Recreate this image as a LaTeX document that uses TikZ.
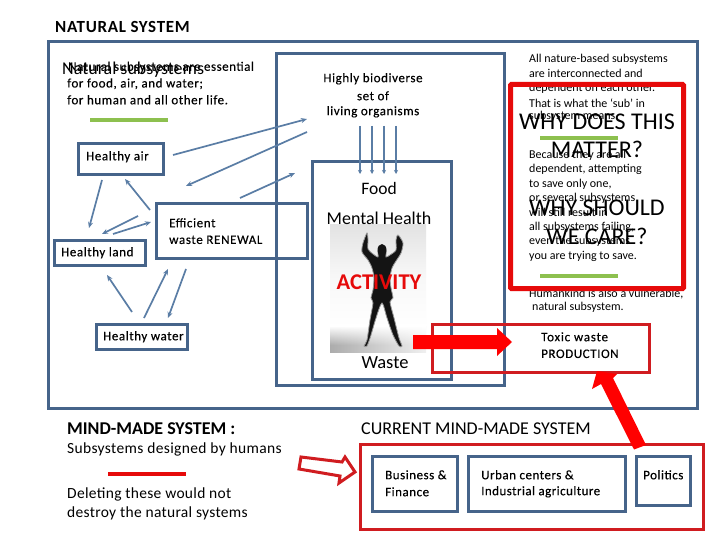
\documentclass[tikz,border=0pt]{standalone}
\usepackage{fontspec}
\setmainfont{Carlito}
\usetikzlibrary{arrows.meta,fadings}
\definecolor{bluebox}{HTML}{46648A}
\definecolor{bluearrow}{HTML}{5A7DA5}
\definecolor{redthick}{HTML}{E60A0A}
\definecolor{redbox}{HTML}{D01C20}
\definecolor{greenbar}{HTML}{8DC04F}
\newcommand{\myfs}[1]{\fontsize{#1}{#1}\selectfont}
\newcommand{\lsp}[1]{\addfontfeature{LetterSpace=#1}}
\newcommand{\lbl}[1]{\fontsize{13}{13}\selectfont\addfontfeature{LetterSpace=#1,FakeBold=0.25}}
\tikzset{
  x=1pt,y=-1pt,
  bbox/.style={draw=bluebox,line width=3pt,fill=none,inner sep=0pt,rectangle},
  rbox/.style={draw=redbox,line width=3pt,fill=none,inner sep=0pt,rectangle},
  thickred/.style={draw=redthick,line width=5pt,rounded corners=1pt,fill=none,inner sep=0pt,rectangle},
  arr/.style={draw=bluearrow,line width=1.7pt,-{Stealth[length=6pt,width=5pt]}},
  downarr/.style={draw=bluearrow,line width=1.4pt,-{Stealth[length=4pt,width=4pt]}},
  txt/.style={anchor=west,inner sep=0pt,text=black,align=left,yshift=-0.8pt},
  ctxt/.style={anchor=center,inner sep=0pt,text=black,align=center,yshift=-0.8pt},
  bar/.style={line width=3.5pt},
}
\begin{document}
\begin{tikzpicture}
\useasboundingbox (0,0) rectangle (720,540);
\fill[white] (0,0) rectangle (720,540);
% photo
\shade[top color=gray!22,bottom color=white,middle color=gray!6] (330,225) rectangle (426,327);
\shade[left color=gray!65,right color=gray!12] (330,326) rectangle (426,352);
\fill[white,path fading=south] (330,326) rectangle (426,345);
\fill[black!92,draw=black!40,line width=.8pt] plot[smooth cycle,tension=.45] coordinates {
  (367,233) (363,243) (362,252) (368,260) (372,268) (374,278) (373,290) (371,298)
  (373,303) (370,320) (367,340) (364,346) (367,346) (371,335) (376,318) (382,303)
  (387,318) (393,335) (399,346) (402,346) (399,338) (394,318) (390,302) (393,298) (391,288) (390,278)
  (392,268) (396,261) (401,253) (403,243) (398,235) (396,240) (396,250) (390,255)
  (386,257) (386,251) (382,245) (378,251) (378,257) (373,254) (368,249) (368,240)};
\fill[black!92] (382,250) ellipse (4.5 and 6);
% boxes
\node[bbox,minimum width=649pt,minimum height=366pt] (natural) at (372.5,225) {};
\node[bbox,minimum width=228pt,minimum height=331pt] (bio) at (390,219.5) {};
\node[bbox,minimum width=139pt,minimum height=217pt] (human) at (381.5,270.5) {};
\node[bbox,minimum width=85pt,minimum height=31pt] (air) at (120.5,159.5) {};
\node[bbox,minimum width=91pt,minimum height=25pt] (land) at (99.5,252.5) {};
\node[bbox,minimum width=151pt,minimum height=54pt] (renewal) at (231.5,231) {};
\node[bbox,minimum width=91pt,minimum height=25pt] (water) at (141.5,336.5) {};
\node[rbox,minimum width=217pt,minimum height=48pt] (toxic) at (540.5,348) {};
\node[rbox,minimum width=343pt,minimum height=85pt] (current) at (531.5,486.5) {};
\node[bbox,minimum width=85pt,minimum height=55pt] (business) at (414.5,483.5) {};
\node[bbox,minimum width=157pt,minimum height=55pt] (urban) at (546.5,483.5) {};
\node[bbox,minimum width=54pt,minimum height=49pt] (politics) at (663,480.5) {};
% green and red bars
\coordinate (g1a) at (90,120); \coordinate (g1b) at (168,120);
\coordinate (g2a) at (540,138); \coordinate (g2b) at (618,138);
\coordinate (g3a) at (540,276); \coordinate (g3b) at (618,276);
\coordinate (r1a) at (108,474); \coordinate (r1b) at (186,474);
\draw[bar,greenbar] (g1a) -- (g1b);
\draw[bar,greenbar] (g2a) -- (g2b);
\draw[bar,greenbar] (g3a) -- (g3b);
\draw[bar,redthick] (r1a) -- (r1b);
% small arrows
\coordinate (a1s) at (173,155); \coordinate (a1e) at (307,119);
\coordinate (a2s) at (307,132); \coordinate (a2e) at (186,186);
\coordinate (a3s) at (240,198); \coordinate (a3e) at (295,173);
\coordinate (a4s) at (102,180); \coordinate (a4e) at (89,228);
\coordinate (a5s) at (150,210); \coordinate (a5e) at (125,179);
\coordinate (a6s) at (138,216); \coordinate (a6e) at (102,234);
\coordinate (a7s) at (113,234); \coordinate (a7e) at (151,222);
\coordinate (a8s) at (132,312); \coordinate (a8e) at (107,275);
\coordinate (a9s) at (144,318); \coordinate (a9e) at (168,269);
\coordinate (a10s) at (186,269); \coordinate (a10e) at (168,318);
\foreach \i in {1,...,10} {\draw[arr] (a\i s) -- (a\i e);}
\foreach \i/\xx in {1/360,2/372,3/384,4/396} {
  \coordinate (d\i s) at (\xx,126); \coordinate (d\i e) at (\xx,174);
  \draw[downarr] (d\i s) -- (d\i e);}
% right text
\node[txt] (para1) at (529,59) {\myfs{12}All nature-based subsystems};
\node[txt] at (529,73) {\myfs{12}are interconnected and};
\node[txt] at (529,88) {\myfs{12}dependent on each other.};
\node[txt] at (529,102) {\myfs{12}That is what  the ‘sub’ in};
\node[txt] at (529,116) {\myfs{12}subsystem means.};
\node[txt] at (529,155) {\myfs{12}Because they are all};
\node[txt] at (529,169) {\myfs{12}dependent, attempting};
\node[txt] at (529,184) {\myfs{12}to save only one,};
\node[txt] at (529,198) {\myfs{12}or several subsystems};
\node[txt] at (529,212) {\myfs{12}will still result in};
\node[txt] at (529,227) {\myfs{12}all subsystems failing,};
\node[txt] at (529,241) {\myfs{12}even the subsystems};
\node[txt] at (529,256) {\myfs{12}you are trying to save.};
\node[txt] at (529,293) {\myfs{12}Humankind is also a vulnerable,};
\node[txt] at (532,307) {\myfs{12}natural subsystem.};
% big red box
\node[thickred,minimum width=173pt,minimum height=204pt] (why) at (597,186.5) {};
\node[ctxt] (why1) at (597,121) {\myfs{24}WHY DOES THIS};
\node[ctxt] (why2) at (597,149) {\myfs{24}MATTER?};
\node[ctxt] (why3) at (597,207) {\myfs{24}WHY SHOULD};
\node[ctxt] (why4) at (597,236) {\myfs{24}WE CARE?};
% big arrows
\fill[red] (413,335) -- (497,335) -- (497,328) -- (512,342) -- (497,356) -- (497,349) -- (413,349) -- cycle;
\fill[red] (634,449.5) -- (646,445) -- (613,378) -- (617,374) -- (597,371) -- (592,389) -- (601,384) -- cycle;
\draw[redbox,line width=3pt,line join=miter,fill=white] (301,457) -- (342,462) -- (345,457) -- (355,472) -- (339,483) -- (340,476) -- (299,469) -- cycle;
% texts
\node[txt] at (55,26) {\myfs{17}\bfseries\lsp{4}NATURAL SYSTEM};
\node[txt] at (68,66.5) {\lbl{4}Natural subsystems are essential};
\node[txt] at (67,83) {\lbl{4.5}for food, air, and water;};
\node[txt] at (67,99) {\lbl{4.5}for human and all other life.};
\node[txt] at (62,69) {\myfs{18}Natural subsystems};
\node[ctxt] at (373,78) {\lbl{4.5}Highly biodiverse};
\node[ctxt] at (373,95) {\lbl{4.5}set of};
\node[ctxt] at (373,111) {\lbl{4.5}living organisms};
\node[txt] at (86,156) {\lbl{4.5}Healthy air};
\node[txt] at (61,252) {\lbl{4.5}Healthy land};
\node[txt] at (103,336) {\lbl{4.5}Healthy water};
\node[txt] at (169,222) {\lbl{5}Efficient};
\node[txt] at (169,239) {\lbl{5}waste RENEWAL};
\node[ctxt] at (379,188) {\myfs{17.5}Food};
\node[ctxt] at (379,218) {\myfs{18}Mental Health};
\node[ctxt,text=redthick] at (379,281) {\myfs{22.5}\bfseries ACTIVITY};
\node[ctxt] at (385,362) {\myfs{18.5}Waste};
\node[txt] at (541,336) {\lbl{6}Toxic waste};
\node[txt] at (541,353) {\lbl{4.5}PRODUCTION};
\node[txt] at (67,428) {\myfs{18}\bfseries MIND-MADE SYSTEM :};
\node[txt] at (67,449) {\myfs{15.5}\lsp{2.3}Subsystems designed by humans};
\node[txt] at (67,494) {\myfs{15.5}\lsp{2}Deleting these would not};
\node[txt] at (67,513) {\myfs{15.5}\lsp{2}destroy the natural systems};
\node[txt] at (361,428) {\myfs{18}CURRENT MIND-MADE SYSTEM};
\node[txt] at (385,474) {\lbl{4}Business \&};
\node[txt] at (385,491) {\lbl{4}Finance};
\node[txt] at (481,474) {\lbl{4}Urban centers \&};
\node[txt] at (481,491) {\lbl{3.5}Industrial agriculture};
\node[txt] at (643,474) {\lbl{4}Politics};
\end{tikzpicture}
\end{document}
